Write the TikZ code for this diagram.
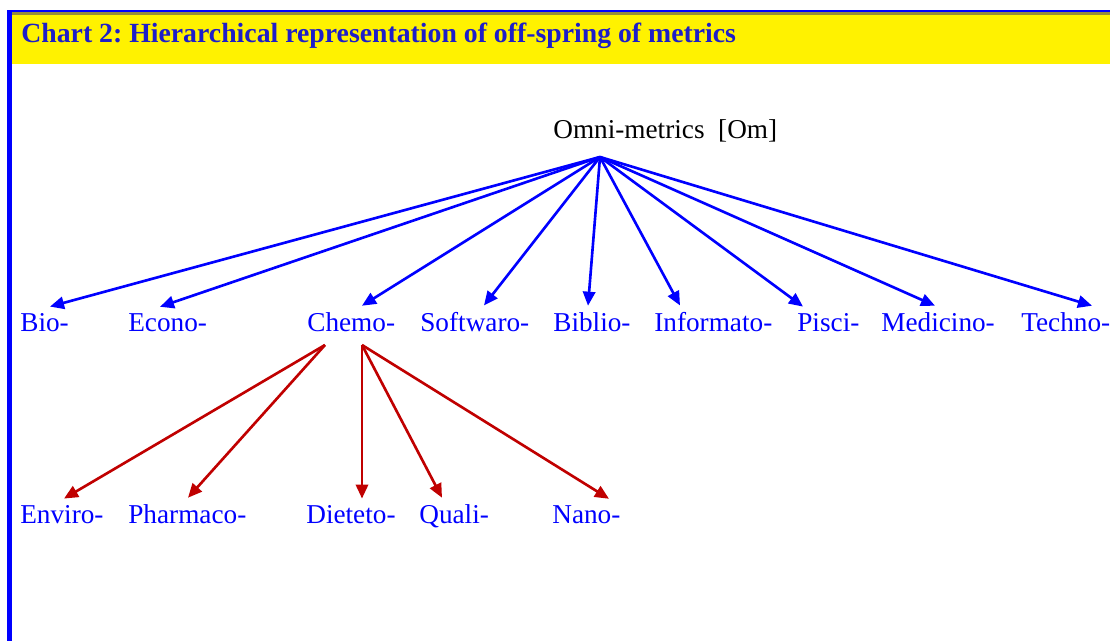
\documentclass[tikz,border=0pt]{standalone}
\usepackage{fontspec}
\setmainfont{Liberation Serif}
\usepackage{tikz}
\usetikzlibrary{arrows.meta, positioning, calc}

\definecolor{labelblue}{RGB}{0,0,255}
\definecolor{titleblue}{RGB}{30,30,200}
\definecolor{arrowred}{RGB}{192,0,0}
\definecolor{barolive}{RGB}{150,140,60}
\frenchspacing

\begin{document}
\begin{tikzpicture}
[
  x=0.02cm, y=-0.02cm,
  every node/.style={inner xsep=0pt, inner ysep=4pt, anchor=base west, font=\fontsize{15.5}{18}\selectfont},
  leaf/.style={text=labelblue},
  bluearrow/.style={draw=labelblue, line width=1.5pt, -{Triangle[length=8pt,width=7pt]}},
  redarrow/.style={draw=arrowred, line width=1.5pt, -{Triangle[length=8pt,width=7pt]}}
]
\useasboundingbox (0,0) rectangle (1110,641);

% frame and title bar
\fill[yellow] (12,14) rectangle (1110,64);
\fill[labelblue] (7,10) rectangle (1110,12.5);
\fill[barolive] (12,12.5) rectangle (1110,15);
\fill[labelblue] (7,10) rectangle (12,641);
\node[text=titleblue, font=\bfseries\fontsize{15.8}{18}\selectfont] (title) at (21,43) {Chart 2: Hierarchical representation of off-spring of metrics};

% root
\node (om) at (553,139) {Omni-metrics~~[Om]};
\coordinate (omtip) at (600,157);

% first level
\node[leaf] (bio) at (20,332) {Bio-};
\node[leaf] (econo) at (128,332) {Econo-};
\node[leaf] (chemo) at (307,332) {Chemo-};
\node[leaf] (softwaro) at (420,332) {Softwaro-};
\node[leaf] (biblio) at (553,332) {Biblio-};
\node[leaf] (informato) at (654,332) {Informato-};
\node[leaf] (pisci) at (797,332) {Pisci-};
\node[leaf] (medicino) at (881,332) {Medicino-};
\node[leaf] (techno) at (1021,332) {Techno-};

% second level
\node[leaf] (enviro) at (20,524) {Enviro-};
\node[leaf] (pharmaco) at (128,524) {Pharmaco-};
\node[leaf] (dieteto) at (306,524) {Dieteto-};
\node[leaf] (quali) at (419,524) {Quali-};
\node[leaf] (nano) at (552,524) {Nano-};

\coordinate (chl) at (325,345);
\coordinate (chr) at (362,345);

\draw[bluearrow] (omtip) -- ($(bio.north west)+(30,0)$);
\draw[bluearrow] (omtip) -- ($(econo.north west)+(32,0)$);
\draw[bluearrow] (omtip) -- ($(chemo.north west)+(55,0)$);
\draw[bluearrow] (omtip) -- ($(softwaro.north west)+(64,0)$);
\draw[bluearrow] (omtip) -- ($(biblio.north west)+(35,0)$);
\draw[bluearrow] (omtip) -- ($(informato.north west)+(26,0)$);
\draw[bluearrow] (omtip) -- ($(pisci.north west)+(6,0)$);
\draw[bluearrow] (omtip) -- ($(medicino.north west)+(54,0)$);
\draw[bluearrow] (omtip) -- ($(techno.north west)+(71,0)$);

\draw[redarrow] (chl) -- ($(enviro.north west)+(44,0)$);
\draw[redarrow] (chl) -- ($(pharmaco.north west)+(60,0)$);
\draw[redarrow] (chr) -- ($(dieteto.north west)+(56,0)$);
\draw[redarrow] (chr) -- ($(quali.north west)+(23,0)$);
\draw[redarrow] (chr) -- ($(nano.north west)+(57,0)$);
\end{tikzpicture}
\end{document}
